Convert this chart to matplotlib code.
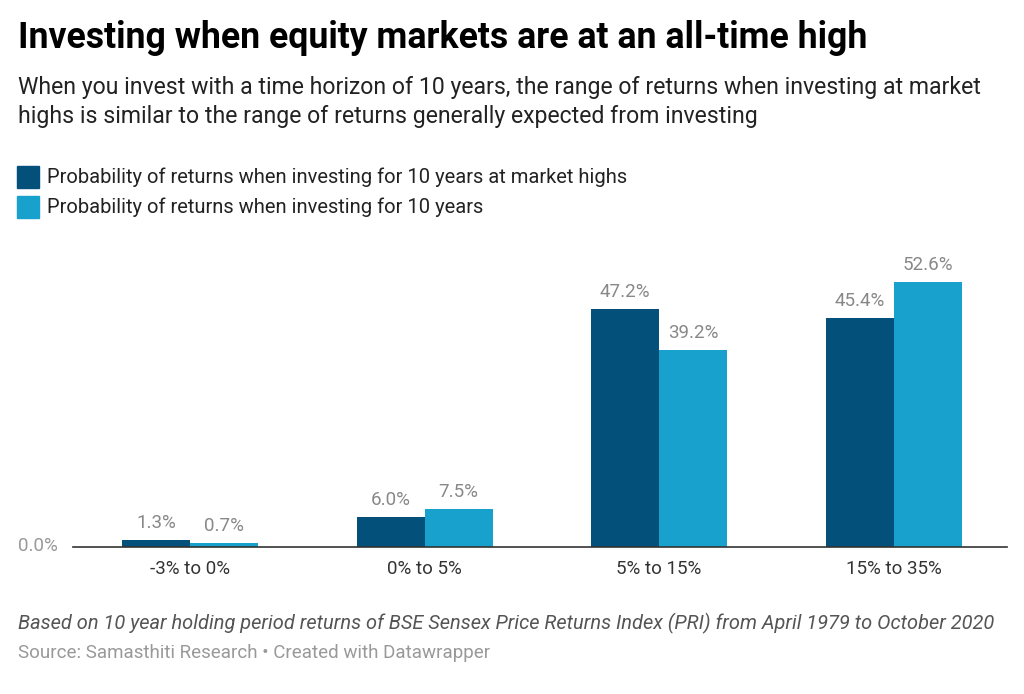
import numpy as np
import matplotlib.pyplot as plt

plt.rcParams['font.family'] = ['Roboto', 'DejaVu Sans']

categories = ['-3% to 0%', '0% to 5%', '5% to 15%', '15% to 35%']
highs = [1.3, 6.0, 47.2, 45.4]
overall = [0.7, 7.5, 39.2, 52.6]
series_names = ['Probability of returns when investing for 10 years at market highs',
                'Probability of returns when investing for 10 years']

dark = '#03517a'
light = '#18a1cd'

fig = plt.figure(figsize=(10.24, 6.94), dpi=100)
ax = fig.add_axes([73/1024, 1 - 547/694, (1007 - 73)/1024, 277/694])

x = np.arange(len(categories))
w = 0.29
ax.bar(x - w/2, highs, w, color=dark)
ax.bar(x + w/2, overall, w, color=light)
for i in range(len(categories)):
    ax.text(x[i] - w/2, highs[i] + 1.6, f'{highs[i]:.1f}%', ha='center', va='bottom',
            fontsize=13.5, color='#888888')
    ax.text(x[i] + w/2, overall[i] + 1.6, f'{overall[i]:.1f}%', ha='center', va='bottom',
            fontsize=13.5, color='#888888')

ax.set_xlim(-0.499, 3.483)
ax.set_ylim(0, 55)
for s in ['top', 'right', 'left']:
    ax.spines[s].set_visible(False)
ax.spines['bottom'].set_color('#333333')
ax.spines['bottom'].set_linewidth(1.2)
ax.set_yticks([])
ax.set_xticks(x)
ax.set_xticklabels(categories, fontsize=13.5, color='#333333')
ax.tick_params(axis='x', length=0, pad=9)
fig.text(58/1024, 1 - 546/694, '0.0%', ha='right', va='center', fontsize=13.5, color='#999999')

fig.text(18/1024, 1 - 38/694, 'Investing when equity markets are at an all-time high',
         fontsize=25.7, fontweight='bold', color='#000000', va='center')
fig.text(18/1024, 1 - 102/694,
         'When you invest with a time horizon of 10 years, the range of returns when investing at market\n'
         'highs is similar to the range of returns generally expected from investing',
         fontsize=16.6, color='#222222', va='center', linespacing=1.33)

for j, (name, c) in enumerate(zip(series_names, [dark, light])):
    yc = 1 - (177 + 30*j)/694
    fig.patches.append(plt.Rectangle((17/1024, yc - 11/694), 22/1024, 22/694,
                                     transform=fig.transFigure, color=c))
    fig.text(47/1024, yc, name, fontsize=14.5, color='#222222', va='center')

fig.text(18/1024, 1 - 623/694,
         'Based on 10 year holding period returns of BSE Sensex Price Returns Index (PRI) from April 1979 to October 2020',
         fontsize=14.4, style='italic', color='#555555', va='center')
fig.text(18/1024, 1 - 653/694, 'Source: Samasthiti Research \u2022 Created with Datawrapper',
         fontsize=13.5, color='#999999', va='center')

fig.savefig('out.png', dpi=100, facecolor='white')
